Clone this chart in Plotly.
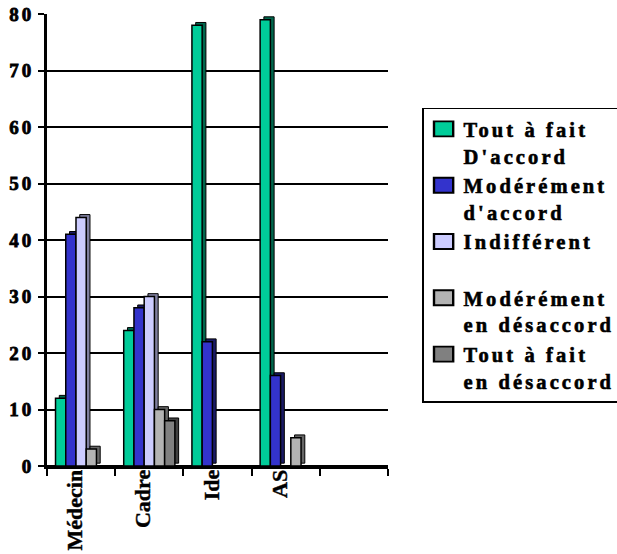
import plotly.graph_objects as go

# Survey answers by professional group (percent)
categories = ["Médecin", "Cadre", "Ide", "AS", " "]
series_names = [
    ["Tout à fait", "D'accord"],
    ["Modérément", "d'accord"],
    ["Indifférent", " "],
    ["Modérément", "en désaccord"],
    ["Tout à fait", "en désaccord"],
]
tout_accord = [12, 24, 78, 79, 0]
modere_accord = [41, 28, 22, 16, 0]
indifferent = [44, 30, 0, 0, 0]
modere_desaccord = [3, 10, 0, 5, 0]
tout_desaccord = [0, 8, 0, 0, 0]
y_ticks = [0, 10, 20, 30, 40, 50, 60, 70, 80]

values = [tout_accord, modere_accord, indifferent, modere_desaccord, tout_desaccord]
face_colors = ["#00CC99", "#3333CC", "#CCCCFF", "#B3B3B3", "#808080"]
side_colors = ["#00664C", "#1A1A66", "#7F7F9F", "#666666", "#404040"]

BAR_W = 0.15
START = -0.375
DEPTH_X = 0.055
DEPTH_Y = 0.5

font_family = "Liberation Serif"


def bold(text):
    return "<br>".join(f"<b>{part}</b>" for part in text.split("<br>"))


fig = go.Figure()

# depth faces first so the front faces sit on top
for i, (vals, side) in enumerate(zip(values, side_colors)):
    fig.add_trace(go.Bar(
        x=categories, y=[v if v else None for v in vals], base=DEPTH_Y,
        width=BAR_W, offset=START + i * BAR_W + DEPTH_X,
        marker=dict(color=side, line=dict(color="black", width=1)),
        showlegend=False, hoverinfo="skip",
    ))

for i, (lines, vals, col) in enumerate(zip(series_names, values, face_colors)):
    fig.add_trace(go.Bar(
        x=categories, y=vals, name="<br>".join(f"<b>{p}</b>" for p in lines),
        width=BAR_W, offset=START + i * BAR_W,
        marker=dict(color=col, line=dict(color="black", width=1.5)),
    ))

fig.update_layout(
    width=617, height=554,
    margin=dict(l=47, r=229, t=14, b=88, autoexpand=False),
    paper_bgcolor="white", plot_bgcolor="white",
    barmode="overlay",
    font=dict(family=font_family, color="black", weight=700),
    legend=dict(
        x=1.1, y=0.793, xanchor="left", yanchor="top",
        bordercolor="black", borderwidth=1.5, bgcolor="white",
        font=dict(family=font_family, size=20.5, color="black", weight=700),
        valign="top", traceorder="normal",
    ),
    xaxis=dict(
        type="category", categoryorder="array", categoryarray=categories,
        tickvals=categories, ticktext=[bold(c) for c in categories],
        range=[-0.5, 4.5], tickson="boundaries",
        ticks="outside", ticklen=7, tickwidth=2, tickcolor="black",
        showline=True, linecolor="black", linewidth=3,
        tickangle=-90, ticklabelshift=-6, ticklabelstandoff=-8,
        tickfont=dict(size=22, family=font_family, weight=700),
        showgrid=False,
    ),
    yaxis=dict(
        range=[0, 80], tickvals=y_ticks, ticktext=[bold(str(v)) for v in y_ticks],
        ticks="outside", ticklen=6, tickwidth=2, tickcolor="black",
        showline=True, linecolor="black", linewidth=3,
        showgrid=True, gridcolor="black", gridwidth=1.5,
        zeroline=True, zerolinecolor="black", zerolinewidth=3,
        tickfont=dict(size=19, family=font_family, weight=700),
    ),
)

# spaced, heavier lettering and larger legend swatches; redraw so the legend box is re-measured
spacing_js = (
    "var s=document.createElement('style');"
    "s.textContent='.legendtext{letter-spacing:3.1px;stroke:black;stroke-width:0.6px}"
    ".ytick text{letter-spacing:3px;stroke:black;stroke-width:0.8px}"
    ".xtick text{stroke:black;stroke-width:0.4px}"
    ".legendpoints path{transform:translate(20px,0) scale(1.6,1.25)}';"
    "document.head.appendChild(s);"
    "var gd=document.getElementById('{plot_id}');"
    "gd.querySelectorAll('.legendtext').forEach(function(t){t.style.letterSpacing='3.1px';});"
    "Plotly.relayout(gd,{'legend.borderwidth':1.5});"
)

fig.write_html("out.html", post_script=spacing_js)
